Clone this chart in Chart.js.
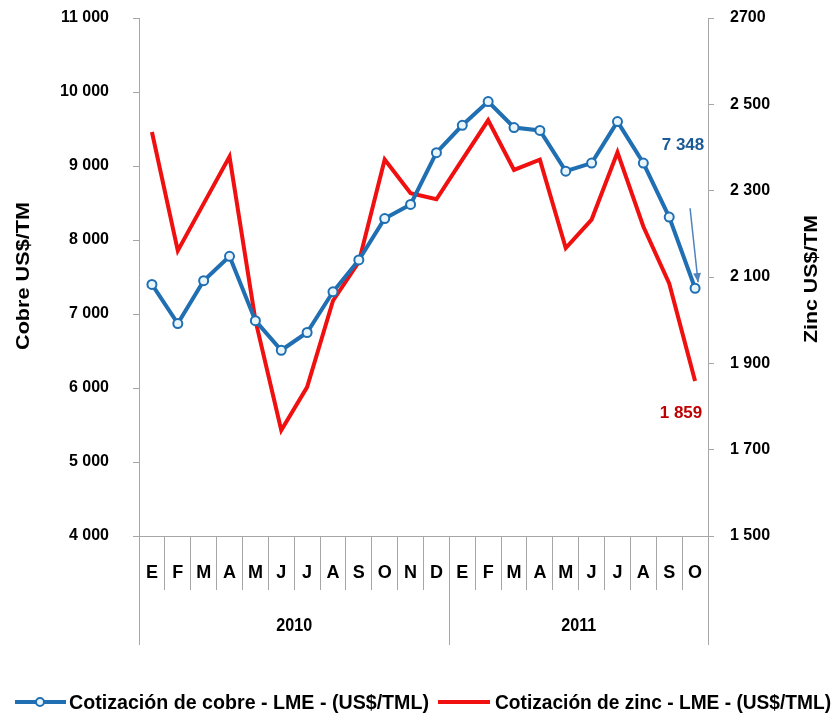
<!DOCTYPE html>
<html>
<head>
<meta charset="utf-8">
<script src="https://cdn.jsdelivr.net/npm/chart.js@4.4.0/dist/chart.umd.min.js"></script>
<style>
  html, body { margin: 0; padding: 0; background: #fff; }
  #wrap { width: 833px; height: 715px; }
</style>
</head>
<body>
<div id="wrap"><canvas id="metales" width="833" height="715"></canvas></div>
<script>
// months E..D 2010, E..O 2011
const meses = ['E','F','M','A','M','J','J','A','S','O','N','D','E','F','M','A','M','J','J','A','S','O'];
const anios = ['2010', '2011'];
const mesesPorAnio = [12, 10];

// cotizacion cobre LME (US$/TM)
const cobre = [7400, 6870, 7450, 7780, 6910, 6510, 6750, 7300, 7730, 8290, 8480, 9180,
               9550, 9870, 9520, 9480, 8930, 9040, 9600, 9040, 8310, 7348];
// cotizacion zinc LME (US$/TM)
const zinc = [2436, 2161, 2270, 2379, 2000, 1745, 1845, 2045, 2135, 2372, 2294, 2280,
              2372, 2463, 2348, 2372, 2167, 2233, 2389, 2217, 2085, 1859];

const ticksCobre = ['4 000','5 000','6 000','7 000','8 000','9 000','10 000','11 000'];
const ticksZinc = ['1 500','1 700','1 900','2 100','2 300','2 500','2700'];

const azul = '#1f6fb2';
const rojo = '#f01010';
const gris = '#a6a6a6';
const fuente = '"Liberation Sans", Arial, sans-serif';

// draws text stretched/squeezed to a given width
function fitText(ctx, text, x, y, w, font, color, rot) {
  ctx.save();
  ctx.font = font;
  ctx.fillStyle = color;
  ctx.textBaseline = 'middle';
  ctx.textAlign = rot ? 'center' : 'left';
  const m = ctx.measureText(text).width;
  ctx.translate(x, y);
  if (rot) ctx.rotate(rot);
  ctx.scale(w / m, 1);
  ctx.fillText(text, 0, 0);
  ctx.restore();
}

const extras = {
  id: 'extras',
  afterDraw(chart) {
    const ctx = chart.ctx;
    const area = chart.chartArea;

    // year separators + year labels
    ctx.save();
    ctx.strokeStyle = gris;
    ctx.lineWidth = 1;
    let idx = 0;
    const bounds = [area.left];
    mesesPorAnio.forEach(n => { idx += n; bounds.push(area.left + (area.right - area.left) * idx / meses.length); });
    bounds.forEach(bx => {
      ctx.beginPath();
      ctx.moveTo(Math.round(bx) + 0.5, area.bottom);
      ctx.lineTo(Math.round(bx) + 0.5, 645);
      ctx.stroke();
    });
    ctx.fillStyle = '#000';
    ctx.font = 'bold 19px ' + fuente;
    ctx.textAlign = 'center';
    ctx.textBaseline = 'middle';
    anios.forEach((a, i) => {
      ctx.save();
      const cx = (bounds[i] + bounds[i + 1]) / 2;
      ctx.translate(cx, 626);
      ctx.scale(0.85, 1);
      ctx.fillText(a, 0, 0);
      ctx.restore();
    });
    ctx.restore();

    // axis titles
    fitText(ctx, 'Cobre US$/TM', 24, 276, 148, 'bold 18px ' + fuente, '#000', -Math.PI / 2);
    fitText(ctx, 'Zinc US$/TM', 812, 279, 128, 'bold 18px ' + fuente, '#000', -Math.PI / 2);

    // end labels and arrow
    const pc = chart.getDatasetMeta(0).data[cobre.length - 1];
    const pz = chart.getDatasetMeta(1).data[zinc.length - 1];
    ctx.save();
    ctx.font = 'bold 17px ' + fuente;
    ctx.textAlign = 'center';
    ctx.textBaseline = 'middle';
    ctx.fillStyle = '#1b5a94';
    ctx.fillText('7 348', 683, 145);
    ctx.fillStyle = '#c00000';
    ctx.fillText('1 859', 681, 413);
    // arrow
    const ax0 = pc.x - 5, ay0 = pc.y - 80, ax1 = pc.x + 3, ay1 = pc.y - 6;
    ctx.strokeStyle = '#4f81bd';
    ctx.fillStyle = '#4f81bd';
    ctx.lineWidth = 1.5;
    ctx.beginPath();
    ctx.moveTo(ax0, ay0);
    ctx.lineTo(ax1, ay1);
    ctx.stroke();
    const ang = Math.atan2(ay1 - ay0, ax1 - ax0);
    ctx.beginPath();
    ctx.moveTo(ax1, ay1);
    ctx.lineTo(ax1 - 10 * Math.cos(ang - 0.4), ay1 - 10 * Math.sin(ang - 0.4));
    ctx.lineTo(ax1 - 10 * Math.cos(ang + 0.4), ay1 - 10 * Math.sin(ang + 0.4));
    ctx.closePath();
    ctx.fill();
    ctx.restore();

    // legend
    ctx.save();
    ctx.lineWidth = 4;
    ctx.strokeStyle = azul;
    ctx.beginPath(); ctx.moveTo(15, 702); ctx.lineTo(66, 702); ctx.stroke();
    ctx.beginPath(); ctx.arc(40, 702, 4, 0, Math.PI * 2);
    ctx.fillStyle = '#e8f6fc'; ctx.fill();
    ctx.lineWidth = 2; ctx.stroke();
    ctx.lineWidth = 4;
    ctx.strokeStyle = rojo;
    ctx.beginPath(); ctx.moveTo(438, 702); ctx.lineTo(490, 702); ctx.stroke();
    ctx.restore();
    fitText(ctx, 'Cotización de cobre - LME - (US$/TML)', 69, 703, 360, 'bold 20px ' + fuente, '#000');
    fitText(ctx, 'Cotización de zinc - LME - (US$/TML)', 495, 703, 336, 'bold 20px ' + fuente, '#000');
  }
};

new Chart(document.getElementById('metales'), {
  type: 'line',
  data: {
    labels: meses,
    datasets: [
      {
        label: 'Cotización de cobre - LME - (US$/TML)',
        data: cobre,
        yAxisID: 'y',
        borderColor: azul,
        borderWidth: 4,
        pointRadius: 4.5,
        pointBorderWidth: 2,
        pointBackgroundColor: '#e8f6fc',
        pointBorderColor: azul,
        tension: 0
      },
      {
        label: 'Cotización de zinc - LME - (US$/TML)',
        data: zinc,
        yAxisID: 'y1',
        borderColor: rojo,
        borderWidth: 4,
        pointRadius: 0,
        tension: 0
      }
    ]
  },
  options: {
    responsive: false,
    animation: false,
    layout: { padding: { top: 18, left: 0, right: 0, bottom: 0 } },
    plugins: { legend: { display: false }, tooltip: { enabled: false } },
    scales: {
      x: {
        offset: true,
        grid: { offset: true, drawOnChartArea: false, tickLength: 54, color: gris },
        border: { color: gris },
        ticks: { color: '#000', font: { family: fuente, weight: 'bold', size: 18 }, padding: -28, maxRotation: 0, autoSkip: false },
        afterFit(s) { s.height = 179; s.paddingLeft = 0; s.paddingRight = 0; }
      },
      y: {
        position: 'left',
        min: 4000, max: 11000,
        grid: { drawOnChartArea: false, tickLength: 6, color: gris },
        border: { color: gris },
        ticks: {
          stepSize: 1000, padding: 24, color: '#000',
          font: { family: fuente, weight: 'bold', size: 16 },
          callback: (v) => ticksCobre[(v - 4000) / 1000]
        },
        afterFit(s) { s.width = 139; s.paddingTop = 0; s.paddingBottom = 0; }
      },
      y1: {
        position: 'right',
        min: 1500, max: 2700,
        grid: { drawOnChartArea: false, tickLength: 6, color: gris },
        border: { color: gris },
        ticks: {
          stepSize: 200, padding: 16, color: '#000',
          font: { family: fuente, weight: 'bold', size: 16 },
          callback: (v) => ticksZinc[(v - 1500) / 200]
        },
        afterFit(s) { s.width = 125; s.paddingTop = 0; s.paddingBottom = 0; }
      }
    }
  },
  plugins: [extras]
});
</script>
</body>
</html>
